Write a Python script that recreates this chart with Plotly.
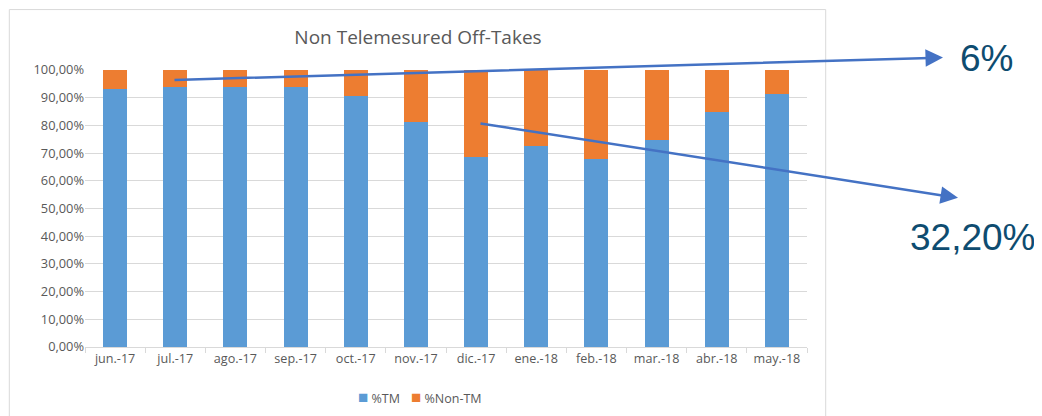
import plotly.graph_objects as go

months = ["jun.-17", "jul.-17", "ago.-17", "sep.-17", "oct.-17", "nov.-17",
          "dic.-17", "ene.-18", "feb.-18", "mar.-18", "abr.-18", "may.-18"]
tm = [0.930, 0.940, 0.9375, 0.9375, 0.907, 0.814, 0.685, 0.727, 0.678, 0.749, 0.850, 0.912]
non_tm = [round(1 - v, 4) for v in tm]
y_ticks = [i / 10 for i in range(11)]
series_names = ["%TM", "%Non-TM"]
series_colors = ["#5B9BD5", "#ED7D31"]

title_text = "Non Telemesured Off-Takes"
label_top = "6%"
label_bottom = "32,20%"

# page body has an 8px margin; work in reference pixel coords and shift
OFF = 8
W, H = 1042 - OFF, 416 - OFF
L, R, T, B = 85 - OFF, 807 - OFF, 70 - OFF, 347.3 - OFF

def px(x):
    return (x - OFF - L) / (R - L)

def py(y):
    return (B - (y - OFF)) / (B - T)

fig = go.Figure()
fig.add_trace(go.Bar(x=months, y=tm, name=series_names[0], marker_color=series_colors[0],
                     marker_line_width=0, showlegend=False))
fig.add_trace(go.Bar(x=months, y=non_tm, name=series_names[1], marker_color=series_colors[1],
                     marker_line_width=0, showlegend=False))

fig.update_layout(
    width=W, height=H,
    barmode="stack", bargap=0.6,
    separators=",.",
    paper_bgcolor="white", plot_bgcolor="white",
    margin=dict(l=L, r=W - R, t=T, b=H - B, autoexpand=False),
    font=dict(family="Open Sans, Liberation Sans, sans-serif", color="#595959", size=12),
    title=dict(text=title_text, x=(418 - OFF) / W, xanchor="center",
               y=1 - (37 - OFF) / H, yanchor="middle",
               font=dict(size=19, color="#595959")),
    showlegend=False,
)
fig.update_yaxes(range=[0, 1], tickvals=y_ticks, tickformat=".2%", showgrid=True,
                 gridcolor="#D9D9D9", gridwidth=1, zeroline=False, showline=False,
                 ticks="", tickfont=dict(size=12.8, color="#595959"))
fig.update_xaxes(showline=True, linecolor="#D9D9D9", linewidth=1, ticks="outside",
                 tickson="boundaries", ticklen=5, tickcolor="#D9D9D9",
                 tickfont=dict(size=12.6, color="#595959"))

# chart frame
fig.add_shape(type="rect", xref="paper", yref="paper",
              x0=px(9.3), x1=px(825.7), y0=py(430), y1=py(9.5),
              line=dict(color="#D9D9D9", width=1), fillcolor="rgba(0,0,0,0)", layer="below")

# legend (compact, Excel style)
legend_x = [356, 409]
for name, color, lx in zip(series_names, series_colors, legend_x):
    fig.add_annotation(xref="paper", yref="paper", x=px(lx), y=py(397), showarrow=False,
                       xanchor="left", yanchor="middle",
                       text=f"<span style='color:{color};font-size:17px'>■</span> {name}",
                       font=dict(size=12.5, color="#595959"))

arrow_color = "#4472C4"
fig.add_annotation(xref="paper", yref="paper", x=px(943), y=py(57.5),
                   axref="pixel", ayref="pixel", ax=173 - 943, ay=80 - 57.5,
                   showarrow=True, arrowhead=2, arrowsize=1.4, arrowwidth=2.5,
                   arrowcolor=arrow_color, text="", standoff=0)
fig.add_annotation(xref="paper", yref="paper", x=px(958), y=py(198),
                   axref="pixel", ayref="pixel", ax=479 - 958, ay=123.3 - 198,
                   showarrow=True, arrowhead=2, arrowsize=1.4, arrowwidth=2.5,
                   arrowcolor=arrow_color, text="", standoff=0)

fig.add_annotation(xref="paper", yref="paper", x=px(986), y=py(58), showarrow=False,
                   text=label_top, xanchor="center", yanchor="middle",
                   font=dict(family="Liberation Sans, Arial, sans-serif", size=37, color="#0E4C70"))
fig.add_annotation(xref="paper", yref="paper", x=px(973), y=py(238), showarrow=False,
                   text=label_bottom, xanchor="center", yanchor="middle",
                   font=dict(family="Liberation Sans, Arial, sans-serif", size=37, color="#0E4C70"))

fig.write_html("out.html")
